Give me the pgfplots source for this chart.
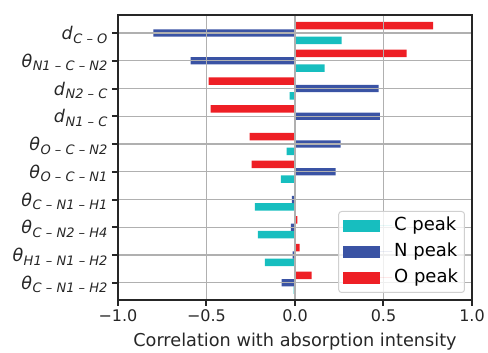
\documentclass[border=0pt]{standalone}
\usepackage{fontspec}
\setmainfont{DejaVu Sans}
\usepackage{pgfplots}
\usepackage{pgfplotstable}
\pgfplotsset{compat=1.18}
\definecolor{cC}{HTML}{17BEBF}
\definecolor{cN}{HTML}{3A53A4}
\definecolor{cO}{HTML}{EE1F25}
\definecolor{gridc}{HTML}{B0B0B0}
\definecolor{spine}{HTML}{262626}
\newcommand{\sbs}[1]{\raisebox{-3.5pt}{\fontsize{13}{13}\selectfont\itshape #1}}
\newcommand{\ms}{\hspace{0.32em}–\hspace{0.32em}}
\newcommand{\dd}[1]{{\itshape d}\hspace{0.5pt}\sbs{#1}}
\newcommand{\tht}[1]{{\itshape θ}\hspace{0.5pt}\sbs{#1}}
\pgfplotstableread{
y C N O
9 0.264 -0.80 0.78
8 0.168 -0.59 0.63
7 -0.030 0.473 -0.488
6 -0.004 0.479 -0.476
5 -0.047 0.258 -0.256
4 -0.080 0.230 -0.245
3 -0.227 -0.018 0.003
2 -0.210 -0.024 0.014
1 -0.170 -0.013 0.026
0 -0.008 -0.075 0.094
}\datatable
\begin{document}
\begin{tikzpicture}
\begin{axis}[
  scale only axis, width=354pt, height=285pt,
  xmin=-1, xmax=1, ymin=-0.62, ymax=9.65,
  xtick={-1,-0.5,0,0.5,1},
  xticklabels={−1.0,−0.5,0.0,0.5,1.0},
  ytick={0,1,2,3,4,5,6,7,8,9},
  yticklabels={\tht{C\ms N1\ms H2},\tht{H1\ms N1\ms H2},\tht{C\ms N2\ms H4},\tht{C\ms N1\ms H1},\tht{O\ms C\ms N1},\tht{O\ms C\ms N2},\dd{N1\ms C},\dd{N2\ms C},\tht{N1\ms C\ms N2},\dd{C\ms O}},
  grid=major, major grid style={gridc, line width=1.4pt},
  axis line style={spine, line width=2pt},
  tick style={spine, line width=2pt},
  tick align=outside, major tick length=6pt,
  xtick pos=bottom, ytick pos=left,
  axis on top,
  xbar, bar width=0.2667,
  xticklabel style={font=\fontsize{16}{19}\selectfont, text=spine},
  yticklabel style={font=\fontsize{17.5}{20}\selectfont, text=spine, anchor=base east, yshift=-6.5pt, xshift=-1pt},
  xlabel={Correlation with absorption intensity},
  xlabel style={font=\fontsize{17.7}{20}\selectfont, text=spine, at={(rel axis cs:0.5,0)}, anchor=base, yshift=-47pt},
  legend cell align=left,
  legend image code/.code={\fill[#1, draw=none, fill opacity=1, sharp corners] (0pt,-6pt) rectangle (37pt,6pt); \path (0pt,0pt) -- (49pt,0pt);},
  legend style={at={(1,0)}, anchor=south east, xshift=-7pt, yshift=7pt,
    draw=gridc!60, line width=1pt, rounded corners=3pt, fill=white, fill opacity=0.8, text opacity=1,
    font=\fontsize{18}{20}\selectfont, text=black, row sep=9pt,
    nodes={inner xsep=2pt, inner ysep=0pt, text height=13pt, text depth=4pt},
    inner xsep=4.5pt, inner ysep=6pt},
]
\addplot[fill=cC, draw=none, bar shift=-0.2667] table[x=C, y=y] {\datatable};
\addlegendentry{C peak}
\addplot[fill=cN, draw=none, bar shift=0] table[x=N, y=y] {\datatable};
\addlegendentry{N peak}
\addplot[fill=cO, draw=none, bar shift=0.2667] table[x=O, y=y] {\datatable};
\addlegendentry{O peak}
\end{axis}
\pgfresetboundingbox
\path[use as bounding box] (current axis.south west) ++(-118pt,-53pt) rectangle ++(488pt,353pt);
\end{tikzpicture}
\end{document}
